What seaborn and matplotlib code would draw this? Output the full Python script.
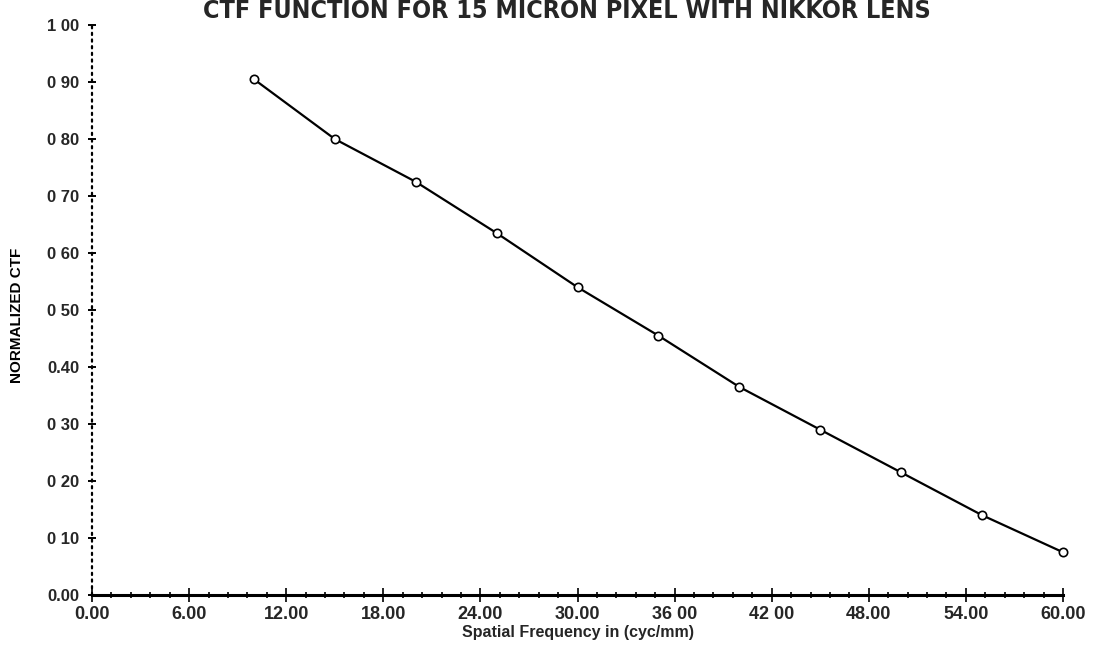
import matplotlib
matplotlib.use("Agg")
import matplotlib.pyplot as plt
import seaborn as sns
import pandas as pd
from matplotlib.ticker import FixedLocator, MultipleLocator

# Data
freq = [10, 15, 20, 25, 30, 35, 40, 45, 50, 55, 60]
ctf = [0.905, 0.80, 0.725, 0.635, 0.54, 0.455, 0.365, 0.29, 0.215, 0.14, 0.075]
x_ticks = [0, 6, 12, 18, 24, 30, 36, 42, 48, 54, 60]
x_tick_labels = ["0.00", "6.00", "12.00", "18.00", "24.00", "30.00",
                 "36 00", "42 00", "48.00", "54.00", "60.00"]
y_ticks = [0.0, 0.1, 0.2, 0.3, 0.4, 0.5, 0.6, 0.7, 0.8, 0.9, 1.0]
y_tick_labels = ["0.00", "0 10", "0 20", "0 30", "0.40", "0 50",
                 "0 60", "0 70", "0 80", "0 90", "1 00"]
title = "CTF FUNCTION FOR 15 MICRON PIXEL WITH NIKKOR LENS"
x_label = "Spatial Frequency in (cyc/mm)"
y_label = "NORMALIZED CTF"

df = pd.DataFrame({"freq": freq, "ctf": ctf})

sns.set_theme(style="white")
plt.rcParams["font.family"] = ["Liberation Sans", "DejaVu Sans"]

fig = plt.figure(figsize=(10.98, 6.51), dpi=100)
ax = fig.add_axes([92 / 1098, 56 / 651, (1063 - 92) / 1098, (595 - 25) / 651])

sns.lineplot(data=df, x="freq", y="ctf", ax=ax, color="black", linewidth=1.6,
             marker="o", markersize=6, markerfacecolor="white",
             markeredgecolor="black", markeredgewidth=1.2, clip_on=False)

ax.set_xlim(0, 60)
ax.set_ylim(0, 1.0)

ax.xaxis.set_major_locator(FixedLocator(x_ticks))
ax.set_xticklabels(x_tick_labels, fontsize=13, fontweight="bold")
ax.xaxis.set_minor_locator(MultipleLocator(1.2))
ax.yaxis.set_major_locator(FixedLocator(y_ticks))
ax.set_yticklabels(y_tick_labels, fontsize=12, fontweight="bold")

ax.tick_params(axis="x", which="major", direction="inout", length=10, width=1.2,
               color="black", pad=3, bottom=True)
ax.tick_params(axis="x", which="minor", direction="inout", length=5, width=1.2,
               color="black", bottom=True)
ax.tick_params(axis="y", which="major", direction="inout", length=6, width=1.4,
               color="black", pad=6, left=True)

for s in ["top", "right"]:
    ax.spines[s].set_visible(False)
ax.spines["bottom"].set_color("black")
ax.spines["bottom"].set_linewidth(2.2)
ax.spines["left"].set_color("black")
ax.spines["left"].set_linewidth(1.6)
ax.spines["left"].set_linestyle((0, (1, 2)))
ax.spines["left"].set_capstyle("round")

ax.set_xlabel(x_label, fontsize=11.5, fontweight="bold", labelpad=1)
ax.set_ylabel(y_label, fontsize=11, labelpad=16, fontweight="bold",
              color="black",
              fontfamily=["Liberation Sans Narrow", "Liberation Sans"])
ax.yaxis.set_label_coords(-0.07, 0.49)
ax.grid(False)

fig.text(567 / 1098, 1 - 18 / 651, title, ha="center", va="baseline",
         fontsize=18, fontweight="bold", fontstretch="condensed",
         family=["DejaVu Sans"])

fig.savefig("out.png", dpi=100, facecolor="white")
